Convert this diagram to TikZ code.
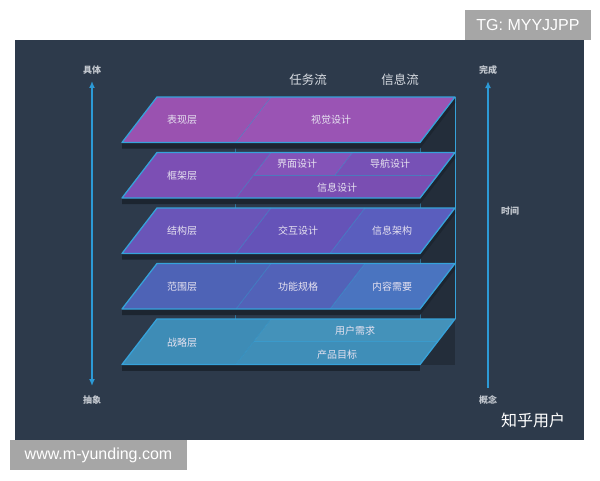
\documentclass[tikz,border=0pt]{standalone}
\usepackage{fontspec}
\setmainfont{Noto Sans CJK SC}
\newfontfamily\latinfont{Liberation Sans}
\usetikzlibrary{arrows.meta}
\definecolor{panelbg}{HTML}{2D3A4B}
\definecolor{backdark}{HTML}{232D3A}
\definecolor{slabdark}{HTML}{1C2530}
\definecolor{edgeblue}{HTML}{36A2DA}
\definecolor{arrowblue}{HTML}{2C9AD6}
\definecolor{labelgray}{HTML}{C3C8CF}
\definecolor{titlegray}{HTML}{D9DDE3}
\definecolor{layerwhite}{HTML}{E6E2F0}
\definecolor{tagbg}{HTML}{A6A6A6}
\definecolor{surfA}{HTML}{9A52B0}
\definecolor{surfB}{HTML}{9A54B4}
\definecolor{skelA}{HTML}{7C4FB4}
\definecolor{skelB}{HTML}{8453B8}
\definecolor{skelC}{HTML}{7A4EB2}
\definecolor{struA}{HTML}{6A55B8}
\definecolor{struB}{HTML}{6553B8}
\definecolor{struC}{HTML}{5A5EBE}
\definecolor{scopA}{HTML}{4E63B6}
\definecolor{scopB}{HTML}{5262B8}
\definecolor{scopC}{HTML}{4A74C0}
\definecolor{stratA}{HTML}{3E8CB6}
\definecolor{stratB}{HTML}{4492BA}
\definecolor{stratC}{HTML}{3F8EB8}
\begin{document}
\begin{tikzpicture}[x=1pt,y=-1pt,
    edge/.style={draw=edgeblue,line width=1.3pt,line join=round},
    seam/.style={draw=edgeblue,line width=0.6pt,opacity=0.55},
    layertext/.style={text=layerwhite,font=\fontsize{10}{12}\selectfont,inner sep=1pt},
    sidetext/.style={text=labelgray,font=\bfseries\fontsize{9}{10}\selectfont,inner sep=1pt},
    arrowline/.style={draw=arrowblue,line width=1.5pt}]
  \useasboundingbox (0,0) rectangle (600,480);
  \fill[white] (0,0) rectangle (600,480);
  \fill[panelbg] (15,40) rectangle (584,440);
  % back of the stack
  \fill[backdark] (420,97) rectangle (455,364.5);
  \draw[seam] (235,142.5) -- (235,364.5);
  \draw[seam] (420,142.5) -- (420,364.5);
  \draw[edge,line width=1pt] (455,97) -- (455,319);
  % surface
  \begin{scope}[yshift=-97pt]
    \fill[slabdark] (122,45.5) -- (420,45.5) -- (455,0) -- (455,6) -- (420,51.5) -- (122,51.5) -- cycle;
    \fill[surfA] (157,0) -- (271,0) -- (236,45.5) -- (122,45.5) -- cycle;
    \fill[surfB] (271,0) -- (455,0) -- (420,45.5) -- (236,45.5) -- cycle;
    \draw[seam] (271,0) -- (236,45.5);
    \draw[edge] (157,0) -- (455,0) -- (420,45.5) -- (122,45.5) -- cycle;
    \node[layertext] (surface) at (182,23){表现层};
    \node[layertext] (visual) at (331,23){视觉设计};
  \end{scope}
  % skeleton
  \begin{scope}[yshift=-152.5pt]
    \fill[slabdark] (122,45.5) -- (420,45.5) -- (455,0) -- (455,6) -- (420,51.5) -- (122,51.5) -- cycle;
    \fill[skelA] (157,0) -- (271,0) -- (236,45.5) -- (122,45.5) -- cycle;
    \fill[skelB] (271,0) -- (352.5,0) -- (335,22.75) -- (253.5,22.75) -- cycle;
    \fill[skelA!85!struC] (352.5,0) -- (455,0) -- (437.5,22.75) -- (335,22.75) -- cycle;
    \fill[skelC] (253.5,22.75) -- (437.5,22.75) -- (420,45.5) -- (236,45.5) -- cycle;
    \draw[seam] (271,0) -- (236,45.5);
    \draw[seam] (253.5,22.75) -- (437.5,22.75);
    \draw[seam] (352.5,0) -- (335,22.75);
    \draw[edge] (157,0) -- (455,0) -- (420,45.5) -- (122,45.5) -- cycle;
    \node[layertext] (skeleton) at (182,23.5){框架层};
    \node[layertext] (interface) at (297,11.5){界面设计};
    \node[layertext] (navigation) at (390,11.5){导航设计};
    \node[layertext] (infodesign) at (337,35.5){信息设计};
  \end{scope}
  % structure
  \begin{scope}[yshift=-208pt]
    \fill[slabdark] (122,45.5) -- (420,45.5) -- (455,0) -- (455,6) -- (420,51.5) -- (122,51.5) -- cycle;
    \fill[struA] (157,0) -- (271,0) -- (236,45.5) -- (122,45.5) -- cycle;
    \fill[struB] (271,0) -- (365,0) -- (330,45.5) -- (236,45.5) -- cycle;
    \fill[struC] (365,0) -- (455,0) -- (420,45.5) -- (330,45.5) -- cycle;
    \draw[seam] (271,0) -- (236,45.5);
    \draw[seam] (365,0) -- (330,45.5);
    \draw[edge] (157,0) -- (455,0) -- (420,45.5) -- (122,45.5) -- cycle;
    \node[layertext] (structure) at (182,23){结构层};
    \node[layertext] (interaction) at (298,23){交互设计};
    \node[layertext] (infoarch) at (392,23){信息架构};
  \end{scope}
  % scope
  \begin{scope}[yshift=-263.5pt]
    \fill[slabdark] (122,45.5) -- (420,45.5) -- (455,0) -- (455,6) -- (420,51.5) -- (122,51.5) -- cycle;
    \fill[scopA] (157,0) -- (271,0) -- (236,45.5) -- (122,45.5) -- cycle;
    \fill[scopB] (271,0) -- (365,0) -- (330,45.5) -- (236,45.5) -- cycle;
    \fill[scopC] (365,0) -- (455,0) -- (420,45.5) -- (330,45.5) -- cycle;
    \draw[seam] (271,0) -- (236,45.5);
    \draw[seam] (365,0) -- (330,45.5);
    \draw[edge] (157,0) -- (455,0) -- (420,45.5) -- (122,45.5) -- cycle;
    \node[layertext] (scopelayer) at (182,23.5){范围层};
    \node[layertext] (funcspec) at (298,23.5){功能规格};
    \node[layertext] (content) at (392,23.5){内容需要};
  \end{scope}
  % strategy
  \begin{scope}[yshift=-319pt]
    \fill[slabdark] (122,45.5) -- (420,45.5) -- (420,51.5) -- (122,51.5) -- cycle;
    \fill[stratA] (157,0) -- (271,0) -- (236,45.5) -- (122,45.5) -- cycle;
    \fill[stratB] (271,0) -- (455,0) -- (437.5,22.75) -- (253.5,22.75) -- cycle;
    \fill[stratC] (253.5,22.75) -- (437.5,22.75) -- (420,45.5) -- (236,45.5) -- cycle;
    \draw[seam] (271,0) -- (236,45.5);
    \draw[seam] (253.5,22.75) -- (437.5,22.75);
    \draw[edge] (157,0) -- (455,0) -- (420,45.5) -- (122,45.5) -- cycle;
    \node[layertext] (strategy) at (182,24){战略层};
    \node[layertext] (userneeds) at (355,12){用户需求};
    \node[layertext] (goals) at (337,36){产品目标};
  \end{scope}
  % headings
  \node[text=titlegray,font=\fontsize{12.5}{14}\selectfont] (taskflow) at (308,80){任务流};
  \node[text=titlegray,font=\fontsize{12.5}{14}\selectfont] (infoflow) at (400,80){信息流};
  % axes
  \node[sidetext] (concrete) at (92,70){具体};
  \node[sidetext] (abstract) at (92,400){抽象};
  \node[sidetext] (done) at (488,70){完成};
  \node[sidetext] (concept) at (488,400){概念};
  \node[sidetext] (time) at (510,211){时间};
  \draw[arrowline,{Latex[length=7pt,width=6pt]}-{Latex[length=7pt,width=6pt]},shorten <=5.5pt,shorten >=8.5pt] (concrete) -- (abstract);
  \draw[arrowline,-{Latex[length=7pt,width=6pt]},shorten <=6.5pt,shorten >=5.5pt] (concept) -- (done);
  % marks
  \node[text=white,font=\fontsize{16}{18}\selectfont] (zhihu) at (533,420){知乎用户};
  \fill[tagbg] (465,10) rectangle (591,40);
  \node[text=white,font=\latinfont\fontsize{16}{18}\selectfont] (tag) at (528,25){TG: MYYJJPP};
  \fill[tagbg] (10,440) rectangle (187,470);
  \node[text=white,font=\latinfont\fontsize{16}{18}\selectfont] (site) at (98.5,455){www.m-yunding.com};
\end{tikzpicture}
\end{document}
